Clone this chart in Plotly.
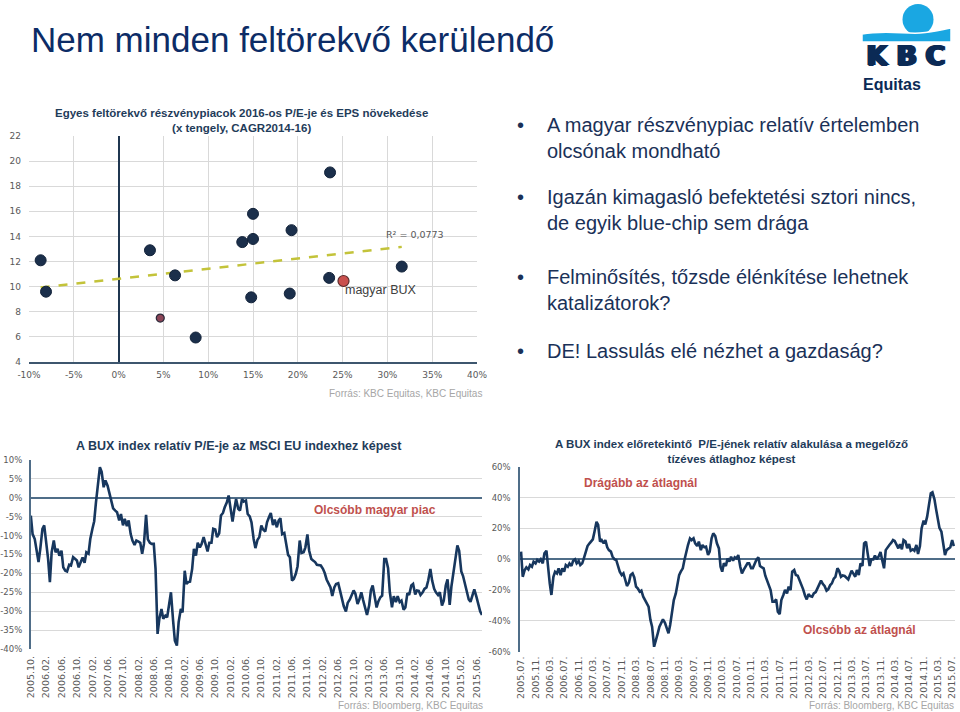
import plotly.graph_objects as go
import pandas as pd

W, H = 960, 712

# ---------------- data ----------------
# Scatter: EPS growth CAGR 2014-16 (%) vs 2016 P/E of emerging markets
scatter_x = [-8.7, -8.1, 3.5, 6.3, 8.6, 13.8, 15.0, 15.0, 14.8, 19.3, 19.1, 23.6, 23.5, 31.6]
scatter_y = [12.1, 9.6, 12.9, 10.9, 5.95, 13.55, 15.8, 13.8, 9.15, 14.5, 9.45, 19.1, 10.7, 11.6]
other_x = [4.65]
other_y = [7.5]
bux_x = [25.1]
bux_y = [10.45]
trend_x = [-8.7, 31.6]
trend_y = [9.93, 13.17]
scatter_xticks = [-10, -5, 0, 5, 10, 15, 20, 25, 30, 35, 40]
scatter_yticks = [4, 6, 8, 10, 12, 14, 16, 18, 20, 22]

# BUX relative P/E vs MSCI EU (%), semi-monthly from 2005.10
rel_pe_start = "2005-10-01"
rel_pe = [
    -4.7, -9.6, -10.9, -13.5, -17.0, -13.5, -8.2, -7.3, -11.9, -16.2,
    -22.3, -14.4, -11.3, -14.4, -13.5, -15.3, -14.0, -18.4, -19.3, -19.5,
    -17.7, -17.9, -15.7, -16.2, -16.6, -18.4, -17.2, -15.8, -17.2, -14.4,
    -14.8, -10.9, -8.2, -6.2, -1.2, 3.7, 8.1, 6.9, 2.8, 4.6,
    3.2, 1.3, -1.3, -2.8, -3.4, -3.8, -6.0, -4.3, -7.3, -5.6,
    -7.5, -6.0, -9.6, -11.3, -12.5, -11.3, -11.6, -11.9, -14.8, -12.2,
    -4.5, -11.0, -11.9, -12.2, -12.2, -18.8, -36.0, -32.0, -29.4, -32.0,
    -31.2, -31.6, -28.1, -25.0, -32.5, -37.8, -39.1, -32.9, -29.4, -30.3,
    -19.3, -22.8, -22.3, -22.2, -18.8, -13.5, -15.3, -11.9, -13.1, -12.2,
    -10.4, -12.2, -14.2, -11.9, -11.9, -8.2, -8.4, -10.4, -9.4, -4.7,
    -4.0, -2.5, -1.2, 0.6, -3.4, -6.3, -3.1, -0.3, -2.9, -3.4,
    -0.3, -1.0, -0.7, -4.3, -4.9, -6.5, -10.9, -13.3, -11.1, -10.4,
    -7.3, -8.4, -8.9, -6.5, -5.1, -4.0, -7.2, -5.8, -7.8, -6.0,
    -5.4, -9.6, -9.3, -12.6, -15.1, -15.7, -21.9, -21.5, -20.1, -18.1,
    -11.3, -14.6, -14.4, -13.1, -9.7, -14.0, -16.2, -16.6, -17.0, -17.7,
    -17.9, -17.9, -18.8, -19.9, -21.6, -22.7, -23.7, -26.0, -23.7, -22.8,
    -22.6, -24.5, -26.7, -28.7, -30.1, -27.8, -26.9, -25.7, -24.5, -25.4,
    -28.1, -26.9, -25.0, -27.0, -29.6, -31.0, -28.5, -24.5, -23.2, -26.1,
    -29.0, -27.4, -26.3, -25.9, -16.2, -16.2, -18.6, -25.0, -29.0, -26.0,
    -27.6, -26.0, -27.6, -27.2, -29.6, -29.0, -25.2, -25.7, -23.2, -22.8,
    -25.6, -24.5, -24.6, -25.7, -25.0, -24.1, -23.7, -21.9, -18.8, -21.9,
    -24.1, -25.0, -25.7, -25.0, -28.5, -27.2, -23.2, -21.6, -28.3, -23.4,
    -19.9, -16.2, -12.6, -14.0, -19.5, -20.7, -22.8, -25.0, -26.9, -27.5,
    -26.0, -24.2, -26.2, -28.2, -30.1, -31.0,
]
rel_pe_ticks = ["2005.10.", "2006.02.", "2006.06.", "2006.10.", "2007.02.", "2007.06.",
                "2007.10.", "2008.02.", "2008.06.", "2008.10.", "2009.02.", "2009.06.",
                "2009.10.", "2010.02.", "2010.06.", "2010.10.", "2011.02.", "2011.06.",
                "2011.10.", "2012.02.", "2012.06.", "2012.10.", "2013.02.", "2013.06.",
                "2013.10.", "2014.02.", "2014.06.", "2014.10.", "2015.02.", "2015.06."]
rel_pe_yticks = [10, 5, 0, -5, -10, -15, -20, -25, -30, -35, -40]

# BUX forward P/E relative to previous 10-year average (%), semi-monthly from 2005.07
fwd_pe_start = "2005-07-01"
fwd_pe = [
    4.9, -11.4, -7.0, -5.3, -6.6, -3.8, -4.9, -1.6, -2.7, -0.5,
    -1.6, -0.1, -2.7, 3.8, 5.5, -7.0, -15.7, -23.2, -11.4, -8.1,
    -9.2, -5.9, -10.3, -5.9, -8.1, -3.8, -4.9, -2.7, -4.4, -1.0,
    -0.1, -2.7, -1.2, -3.8, -2.7, 0.5, 5.9, 8.5, 10.3, 11.4,
    12.9, 17.8, 24.3, 22.2, 11.4, 12.4, 10.3, 12.4, 7.7, 5.9,
    4.9, 1.6, -0.1, -0.5, -5.3, -8.1, -10.3, -9.2, -13.5, -17.4,
    -15.2, -10.3, -9.2, -11.8, -17.8, -18.9, -21.1, -20.4, -24.3, -26.5,
    -29.1, -30.8, -39.5, -43.8, -56.8, -53.5, -48.1, -43.8, -40.5, -39.0,
    -41.2, -44.9, -48.1, -42.7, -31.9, -26.5, -22.2, -15.7, -10.3, -8.1,
    -5.9, -0.5, 5.9, 9.2, 13.5, 12.4, 13.5, 10.3, 8.5, 11.4,
    5.9, 9.2, 7.7, 8.1, 2.7, 4.9, 13.5, 16.8, 15.0, 10.3,
    7.0, -4.9, -8.1, -2.7, -4.4, 0.5, -1.6, 1.6, -1.0, 1.2,
    0.5, 2.7, -4.9, -9.2, -6.6, -4.4, -2.7, -2.7, -5.9, -5.9,
    -3.1, -0.5, 1.2, -4.4, -5.3, -5.9, -10.7, -13.5, -16.1, -20.0,
    -27.6, -27.6, -26.1, -34.1, -35.6, -26.5, -23.2, -20.0, -22.2, -17.8,
    -20.0, -8.1, -7.0, -10.3, -10.7, -13.1, -16.8, -19.4, -23.7, -26.1,
    -22.6, -23.9, -24.3, -22.2, -21.3, -18.9, -16.1, -13.9, -16.1, -17.4,
    -20.4, -19.6, -16.8, -15.7, -12.6, -11.4, -5.9, -7.5, -11.4, -10.5,
    -10.9, -11.8, -13.1, -10.3, -7.5, -9.2, -11.4, -7.0, -10.3, -2.7,
    -4.4, 10.3, 11.4, 3.8, -4.4, -0.1, -0.1, 2.3, -0.1, 1.6,
    4.6, -0.5, -5.9, 5.9, 8.1, 9.2, 10.7, 12.4, 11.8, 9.2,
    7.0, 9.8, 6.4, 12.4, 11.4, 7.2, 9.8, 5.5, 6.4, 5.5,
    9.2, 3.4, 8.5, 20.0, 25.0, 22.6, 27.6, 34.5, 42.7, 43.4,
    38.8, 32.3, 25.8, 20.4, 17.8, 11.4, 2.7, 5.9, 6.8, 7.7,
    12.4, 8.5,
]
fwd_pe_ticks = ["2005.07.", "2005.11.", "2006.03.", "2006.07.", "2006.11.", "2007.03.",
                "2007.07.", "2007.11.", "2008.03.", "2008.07.", "2008.11.", "2009.03.",
                "2009.07.", "2009.11.", "2010.03.", "2010.07.", "2010.11.", "2011.03.",
                "2011.07.", "2011.11.", "2012.03.", "2012.07.", "2012.11.", "2013.03.",
                "2013.07.", "2013.11.", "2014.03.", "2014.07.", "2014.11.", "2015.03.",
                "2015.07."]
fwd_pe_yticks = [60, 40, 20, 0, -20, -40, -60]

bullets = [
    ["A magyar részvénypiac relatív értelemben", "olcsónak mondható"],
    ["Igazán kimagasló befektetési sztori nincs,", "de egyik blue-chip sem drága"],
    ["Felminősítés, tőzsde élénkítése lehetnek", "katalizátorok?"],
    ["DE! Lassulás elé nézhet a gazdaság?"],
]

# ---------------- helpers ----------------
def fx(px):
    return px / W


def fy(py):
    return 1 - py / H


def path(points, close=True):
    s = ""
    for cmd, pts in points:
        s += cmd + " " + " ".join(f"{fx(a):.5f},{fy(b):.5f}" for a, b in pts) + " "
    if close:
        s += "Z"
    return s


def tick_dates(labels):
    return [pd.Timestamp(int(t[:4]), int(t[5:7]), 1) for t in labels]


NAVY = "#17375e"
GRID = "#d9d9d9"
TICKC = "#595959"
RED = "#c0504d"
tick_font = dict(family="DejaVu Sans", size=8.5, color=TICKC)
stick_font = dict(family="DejaVu Sans", size=9, color=TICKC)
title_font = dict(family="Liberation Sans", size=11.5, color="#1f3c5a", weight="bold")

fig = go.Figure()

# ---------------- scatter chart ----------------
fig.add_trace(go.Scatter(x=trend_x, y=trend_y, mode="lines",
                         line=dict(color="#c3c33a", width=2.5, dash="dash"),
                         xaxis="x", yaxis="y", hoverinfo="skip"))
fig.add_trace(go.Scatter(x=scatter_x, y=scatter_y, mode="markers",
                         marker=dict(size=11, color="#1b2f4b", line=dict(color="#13233a", width=1)),
                         xaxis="x", yaxis="y"))
fig.add_trace(go.Scatter(x=other_x, y=other_y, mode="markers",
                         marker=dict(size=8, color="#8b4557", line=dict(color="#2a2a3a", width=1.2)),
                         xaxis="x", yaxis="y"))
fig.add_trace(go.Scatter(x=bux_x, y=bux_y, mode="markers",
                         marker=dict(size=11, color="#c9504d", line=dict(color="#5a2b2b", width=1.2)),
                         xaxis="x", yaxis="y"))

# ---------------- line charts ----------------
rel_dates = pd.date_range(rel_pe_start, periods=len(rel_pe), freq="SMS")
fwd_dates = pd.date_range(fwd_pe_start, periods=len(fwd_pe), freq="SMS")
fig.add_trace(go.Scatter(x=rel_dates, y=rel_pe, mode="lines",
                         line=dict(color=NAVY, width=2.6), xaxis="x2", yaxis="y2"))
fig.add_trace(go.Scatter(x=fwd_dates, y=fwd_pe, mode="lines",
                         line=dict(color=NAVY, width=2.6), xaxis="x3", yaxis="y3"))

xtick_font = dict(family="DejaVu Sans", size=9.5, color=TICKC)
fig.update_layout(
    width=W, height=H, margin=dict(l=0, r=0, t=0, b=0, autoexpand=False),
    paper_bgcolor="white", plot_bgcolor="white", showlegend=False,
    xaxis=dict(domain=[fx(29), fx(477)], range=[-10, 40], anchor="y", automargin=False,
               tickmode="array", tickvals=scatter_xticks,
               ticktext=[f"{v}%" for v in scatter_xticks],
               showgrid=True, gridcolor=GRID, zeroline=True, zerolinecolor="#1f3650",
               zerolinewidth=1.5, showline=True, linecolor="#3d566e", linewidth=2,
               tickfont=stick_font, ticks="", ticklabelstandoff=3),
    yaxis=dict(domain=[fy(362), fy(136)], range=[4, 22], anchor="x", automargin=False,
               tickmode="array", tickvals=scatter_yticks,
               ticktext=[str(v) for v in scatter_yticks],
               showgrid=True, gridcolor=GRID, zeroline=False, showline=False,
               tickfont=stick_font, ticks="", ticklabelstandoff=7),
    xaxis2=dict(domain=[fx(30.7), fx(482)], type="date", anchor="y2", automargin=False,
                range=["2005-09-30", "2015-07-15"],
                tickmode="array", tickvals=tick_dates(rel_pe_ticks), ticktext=rel_pe_ticks,
                tickangle=-90, showgrid=False, zeroline=False, showline=False,
                tickfont=xtick_font, ticks="", ticklabelstandoff=4),
    yaxis2=dict(domain=[fy(649), fy(460)], range=[-40, 10], anchor="x2", automargin=False,
                tickmode="array", tickvals=rel_pe_yticks,
                ticktext=[f"{v}%" for v in rel_pe_yticks],
                showgrid=True, gridcolor=GRID, zeroline=True, zerolinecolor="#4f6d88",
                zerolinewidth=1.5, showline=True, linecolor="#4f6d88", linewidth=1.5,
                tickfont=tick_font, ticks="", ticklabelstandoff=5),
    xaxis3=dict(domain=[fx(520), fx(955)], type="date", anchor="y3", automargin=False,
                range=["2005-06-22", "2015-07-25"],
                tickmode="array", tickvals=tick_dates(fwd_pe_ticks), ticktext=fwd_pe_ticks,
                tickangle=-90, showgrid=False, zeroline=False, showline=False,
                tickfont=xtick_font, ticks="", ticklabelstandoff=2),
    yaxis3=dict(domain=[fy(651.7), fy(466.7)], range=[-60, 60], anchor="x3", automargin=False,
                tickmode="array", tickvals=fwd_pe_yticks,
                ticktext=[f"{v}%" for v in fwd_pe_yticks],
                showgrid=True, gridcolor=GRID, zeroline=True, zerolinecolor="#4f6d88",
                zerolinewidth=1.5, showline=True, linecolor="#4f6d88", linewidth=1.5,
                tickfont=tick_font, ticks="", ticklabelstandoff=6),
)

ann = []


def add_text(text, px, py, font, xanchor="left", align="left"):
    ann.append(dict(text=text, x=fx(px), y=fy(py), xref="paper", yref="paper",
                    xanchor=xanchor, yanchor="middle", showarrow=False, font=font,
                    align=align))


# slide title
add_text("Nem minden feltörekvő kerülendő", 29, 39.5,
         dict(family="Liberation Sans", size=35, color="#0c2c66"))

# bullets
bullet_font = dict(family="Liberation Sans", size=20, color="#1a3158")
line_y = [[125, 151], [197, 223], [277, 303], [351]]
for lines, ys in zip(bullets, line_y):
    add_text("•", 520, ys[0], bullet_font, xanchor="center")
    for t, yy in zip(lines, ys):
        add_text(t, 545, yy, bullet_font)

# chart titles
add_text("Egyes feltörekvő részvénypiacok 2016-os P/E-je és EPS növekedése<br>(x tengely, CAGR2014-16)",
         241, 120.5, title_font, xanchor="center", align="center")
add_text("A BUX index relatív P/E-je az MSCI EU indexhez képest", 239, 446,
         dict(title_font, size=12.5), xanchor="center", align="center")
add_text("A BUX index előretekintő  P/E-jének relatív alakulása a megelőző<br>tízéves átlaghoz képest",
         731, 451, title_font, xanchor="center", align="center")

# sources
src_font = dict(family="Liberation Sans", size=10, color="#a6a6a6")
add_text("Forrás: KBC Equitas, KBC Equitas", 484, 393, src_font, xanchor="right")
add_text("Forrás: Bloomberg, KBC Equitas", 485, 705, src_font, xanchor="right")
add_text("Forrás: Bloomberg, KBC Equitas", 956, 705, src_font, xanchor="right")

# scatter labels (data coordinates)
ann.append(dict(text="R² = 0,0773", x=29.6, y=14.15, xref="x", yref="y", xanchor="left",
                yanchor="middle", showarrow=False,
                font=dict(family="DejaVu Sans", size=9.5, color="#595959")))
ann.append(dict(text="magyar BUX", x=25.0, y=9.7, xref="x", yref="y", xanchor="left",
                yanchor="middle", showarrow=False,
                font=dict(family="Liberation Sans", size=12.5, color="#404040")))

# red call-outs
red_font = dict(family="Liberation Sans", size=12, color=RED, weight="bold")
add_text("Olcsóbb magyar piac", 312, 510, red_font)
add_text("Drágább az átlagnál", 582, 483, red_font)
add_text("Olcsóbb az átlagnál", 801, 630, red_font)

# logo text
logo_navy = "#0b2a55"
thick = "1px 0 0 #0b2a55, -1px 0 0 #0b2a55, 0 1px 0 #0b2a55, 2px 0 0 #0b2a55"
for ch, cx in zip("KBC", [877, 906, 935]):
    add_text(ch, cx, 56, dict(family="DejaVu Sans", size=27, color=logo_navy, weight="bold",
                              shadow=thick),
             xanchor="center")
add_text("Equitas", 861, 84.5, dict(family="Liberation Sans", size=16, color=logo_navy,
                                    weight="bold"))

fig.update_layout(annotations=ann)

# ---------------- shapes: arrows and logo ----------------
shapes = []
arrow_col = "#c3504e"
# down arrow (left chart)
shapes.append(dict(type="path", xref="paper", yref="paper", fillcolor=arrow_col, line_width=0,
                   path=path([("M", [(438, 496)]), ("L", [(453, 496), (453, 529), (462, 529),
                                                          (445.5, 543.5), (428, 529), (438, 529)])])))
# up arrow (right chart)
shapes.append(dict(type="path", xref="paper", yref="paper", fillcolor=arrow_col, line_width=0,
                   path=path([("M", [(705.5, 513.5)]), ("L", [(720, 513.5), (720, 482.5), (727.5, 482.5),
                                                              (712.5, 468), (698, 482.5), (705.5, 482.5)])])))
# down arrow (right chart)
shapes.append(dict(type="path", xref="paper", yref="paper", fillcolor=arrow_col, line_width=0,
                   path=path([("M", [(924, 600)]), ("L", [(938.5, 600), (938.5, 634), (946.5, 634),
                                                          (931.5, 648.5), (916.5, 634), (924, 634)])])))
# logo
logo_blue = "#1aa7e2"
shapes.append(dict(type="circle", xref="paper", yref="paper", fillcolor=logo_blue, line_width=0,
                   x0=fx(902.5), x1=fx(933.5), y0=fy(35), y1=fy(4)))
shapes.append(dict(type="path", xref="paper", yref="paper", fillcolor=logo_blue,
                   line=dict(color="white", width=1.5),
                   path=path([("M", [(862, 42)]), ("L", [(862, 34)]),
                              ("C", [(885, 30), (905, 34), (920, 33)]),
                              ("C", [(935, 32), (944, 29), (951, 28)]),
                              ("L", [(951, 42)])])))
fig.update_layout(shapes=shapes)

fig.write_html("out.html", config={"displayModeBar": False},
               post_script="document.body.style.margin='0';document.body.style.overflow='hidden';")
